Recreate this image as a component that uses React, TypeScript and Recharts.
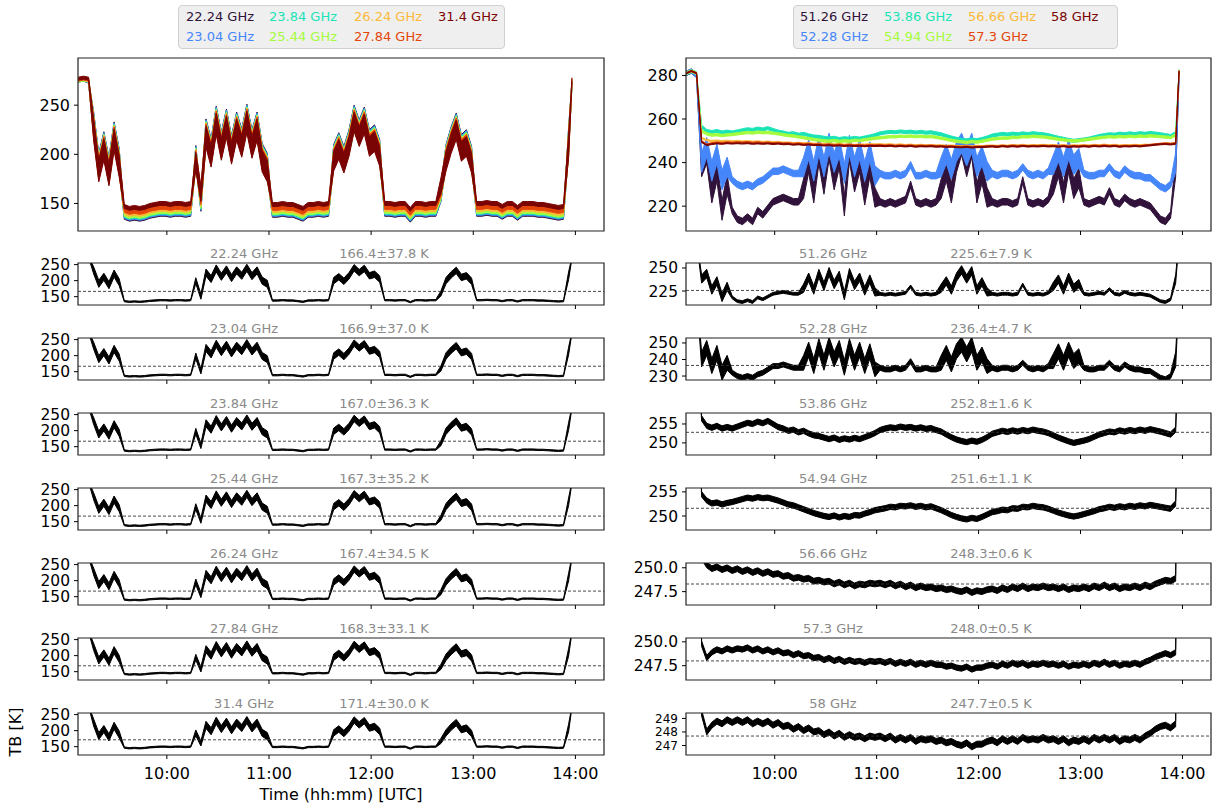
import React from 'react';
import { ComposedChart, Area, XAxis, YAxis, ReferenceLine, ReferenceArea } from 'recharts';

// sample times (UTC)
const TIMES = [
  '9:08', '9:11', '9:14', '9:17', '9:20', '9:23', '9:26', '9:29', '9:32', '9:35', '9:38', '9:41', '9:44', '9:47', '9:50', '9:53', '9:56', '9:59',
  '10:02', '10:05', '10:08', '10:11', '10:14', '10:17', '10:20', '10:23', '10:26', '10:29', '10:32', '10:35', '10:38', '10:41', '10:44', '10:47', '10:50', '10:53', '10:56', '10:59',
  '11:02', '11:05', '11:08', '11:11', '11:14', '11:17', '11:20', '11:23', '11:26', '11:29', '11:32', '11:35', '11:38', '11:41', '11:44', '11:47', '11:50', '11:53', '11:56', '11:59',
  '12:02', '12:05', '12:08', '12:11', '12:14', '12:17', '12:20', '12:23', '12:26', '12:29', '12:32', '12:35', '12:38', '12:41', '12:44', '12:47', '12:50', '12:53', '12:56', '12:59',
  '13:02', '13:05', '13:08', '13:11', '13:14', '13:17', '13:20', '13:23', '13:26', '13:29', '13:32', '13:35', '13:38', '13:41', '13:44', '13:47', '13:50', '13:53', '13:56',
  '13:58',
];

const K_FREQS = ['22.24 GHz', '23.04 GHz', '23.84 GHz', '25.44 GHz', '26.24 GHz', '27.84 GHz', '31.4 GHz'];
const K_MEANS = [166.4, 166.9, 167.0, 167.3, 167.4, 168.3, 171.4];
const K_STDS = [37.8, 37.0, 36.3, 35.2, 34.5, 33.1, 30.0];

const V_FREQS = ['51.26 GHz', '52.28 GHz', '53.86 GHz', '54.94 GHz', '56.66 GHz', '57.3 GHz', '58 GHz'];
const V_MEANS = [225.6, 236.4, 252.8, 251.6, 248.3, 248.0, 247.7];
const V_STDS = [7.9, 4.7, 1.6, 1.1, 0.6, 0.5, 0.5];

const COLORS = ['#30123b', '#4686fb', '#1ae4b6', '#a4fc3c', '#fbb938', '#e4460a', '#7a0403'];

// brightness temperatures [K], K band
const TB_2224 = [
  275, 276, 274, 232, 190, 212, 186, 222, 195,
  136, 134, 135, 134, 135, 137, 138, 139, 139, 138, 139, 139, 138, 139,
  200, 150, 225, 205, 238, 212, 235, 208, 232, 215, 240, 214, 232, 200, 190,
  138, 138, 139, 138, 138, 136, 134, 138, 138, 139, 138, 139,
  200, 212, 198, 215, 240, 225, 238, 215, 220, 205,
  139, 139, 138, 139, 139, 133, 139, 139, 138, 139, 139, 160,
  200, 218, 232, 210, 215, 198,
  139, 139, 140, 139, 139, 136, 139, 139, 135, 139, 139, 139, 138, 138, 137, 136, 135, 136,
  215, 272,
];
const TB_2304 = [
  275, 276, 274, 231, 189, 211, 185, 221, 194,
  137, 135, 136, 135, 136, 138, 139, 140, 140, 139, 140, 140, 139, 140,
  199, 151, 224, 204, 237, 211, 234, 207, 231, 214, 239, 213, 231, 199, 189,
  139, 139, 140, 139, 139, 137, 135, 139, 139, 140, 139, 140,
  199, 211, 197, 214, 239, 224, 237, 214, 219, 204,
  140, 140, 139, 140, 140, 134, 140, 140, 139, 140, 140, 160,
  199, 217, 231, 209, 214, 197,
  140, 140, 141, 140, 140, 137, 140, 140, 136, 140, 140, 140, 139, 139, 138, 137, 136, 137,
  214, 273,
];
const TB_2384 = [
  275, 276, 275, 230, 188, 210, 184, 220, 193,
  138, 136, 137, 136, 137, 139, 140, 141, 141, 140, 141, 141, 140, 141,
  198, 152, 223, 203, 236, 210, 233, 206, 230, 213, 238, 212, 230, 198, 188,
  140, 140, 141, 140, 140, 138, 136, 140, 140, 141, 140, 141,
  198, 210, 196, 213, 238, 223, 236, 213, 218, 203,
  141, 141, 140, 141, 141, 135, 141, 141, 140, 141, 141, 161,
  198, 216, 230, 208, 213, 196,
  141, 141, 142, 141, 141, 138, 141, 141, 137, 141, 141, 141, 140, 140, 139, 138, 137, 138,
  213, 273,
];
const TB_2544 = [
  275, 276, 275, 229, 187, 209, 183, 219, 192,
  139, 137, 138, 137, 138, 140, 141, 142, 142, 141, 142, 142, 141, 142,
  197, 153, 222, 202, 235, 209, 232, 205, 229, 212, 237, 211, 229, 197, 187,
  141, 141, 142, 141, 141, 139, 137, 141, 141, 142, 141, 142,
  197, 209, 195, 212, 237, 222, 235, 212, 217, 202,
  142, 142, 141, 142, 142, 136, 142, 142, 141, 142, 142, 162,
  197, 215, 229, 207, 212, 195,
  142, 142, 143, 142, 142, 139, 142, 142, 138, 142, 142, 142, 141, 141, 140, 139, 138, 139,
  212, 274,
];
const TB_2624 = [
  276, 277, 275, 228, 186, 208, 182, 218, 191,
  141, 139, 140, 139, 140, 142, 143, 144, 144, 143, 144, 144, 143, 144,
  196, 155, 221, 201, 234, 208, 231, 204, 228, 211, 236, 210, 228, 196, 186,
  143, 143, 144, 143, 143, 141, 139, 143, 143, 144, 143, 144,
  196, 208, 194, 211, 236, 221, 234, 211, 216, 201,
  144, 144, 143, 144, 144, 138, 144, 144, 143, 144, 144, 164,
  196, 214, 228, 206, 211, 194,
  144, 144, 145, 144, 144, 141, 144, 144, 140, 144, 144, 144, 143, 143, 142, 141, 140, 141,
  211, 274,
];
const TB_2784 = [
  276, 277, 276, 227, 185, 207, 181, 217, 190,
  143, 141, 142, 141, 142, 144, 145, 146, 146, 145, 146, 146, 145, 146,
  195, 157, 220, 200, 233, 207, 230, 203, 227, 210, 235, 209, 227, 195, 185,
  145, 145, 146, 145, 145, 143, 141, 145, 145, 146, 145, 146,
  195, 207, 193, 210, 235, 220, 233, 210, 215, 200,
  146, 146, 145, 146, 146, 140, 146, 146, 145, 146, 146, 165,
  195, 213, 227, 205, 210, 193,
  146, 146, 147, 146, 146, 143, 146, 146, 142, 146, 146, 146, 145, 145, 144, 143, 142, 143,
  210, 275,
];
const TB_3140 = [
  277, 278, 277, 225, 183, 205, 179, 215, 188,
  147, 145, 146, 145, 146, 148, 149, 150, 150, 149, 150, 150, 149, 150,
  193, 160, 218, 198, 231, 205, 228, 201, 225, 208, 233, 207, 225, 193, 183,
  149, 149, 150, 149, 149, 147, 145, 149, 149, 150, 149, 150,
  193, 205, 191, 208, 233, 218, 231, 208, 213, 198,
  150, 150, 149, 150, 150, 144, 150, 150, 149, 150, 150, 168,
  193, 211, 225, 203, 208, 191,
  150, 150, 151, 150, 150, 147, 150, 150, 146, 150, 150, 150, 149, 149, 148, 147, 146, 147,
  208, 276,
];
// scatter half-width of the K-band samples [K]
const K_SPREAD = [
  1.5, 1.5, 1.5, 11, 11, 11, 11, 11, 11,
  2, 2, 2, 2, 2, 2, 2, 2, 2, 2, 2, 2, 2, 2,
  9, 8, 11, 11, 11, 11, 11, 11, 11, 11, 11, 11, 11, 11, 11,
  2, 2, 2, 2, 2, 2, 2, 2, 2, 2, 2, 2,
  10, 10, 10, 10, 10, 10, 10, 10, 10, 10,
  2, 2, 2, 2, 2, 2, 2, 2, 2, 2, 2, 8,
  10, 10, 10, 10, 10, 10,
  2, 2, 2, 2, 2, 2, 2, 2, 2, 2, 2, 2, 2, 2, 2, 2, 2, 2,
  12, 2,
];

// V band
const TB_5126 = [
  281, 282, 280, 238, 244, 226, 236, 218, 230,
  218, 214, 213, 215, 213, 218, 216, 219, 222, 223, 224, 223, 222, 222,
  228, 240, 226, 244, 230, 246, 232, 242, 220, 245, 231, 240, 225, 238, 224,
  222, 221, 222, 221, 222, 223, 230, 222, 221, 222, 221, 222,
  228, 236, 226, 240, 248, 238, 247, 226, 235, 224,
  222, 221, 222, 222, 221, 222, 232, 222, 221, 222, 221, 223,
  230, 238, 226, 240, 228, 233,
  222, 221, 222, 223, 222, 227, 222, 221, 224, 222, 221, 222, 221, 220, 217, 214, 213, 216,
  238, 280,
];
const TB_5228 = [
  281, 282, 280, 240, 247, 236, 244, 232, 238,
  232, 230, 229, 230, 229, 231, 232, 234, 236, 236, 237, 236, 235, 235,
  238, 246, 236, 248, 238, 249, 240, 247, 235, 248, 238, 246, 236, 245, 234,
  235, 234, 234, 235, 234, 235, 239, 234, 234, 235, 234, 234,
  238, 244, 237, 245, 249, 243, 249, 238, 243, 236,
  235, 234, 235, 235, 234, 235, 238, 235, 234, 235, 234, 236,
  239, 245, 238, 246, 239, 242,
  235, 234, 234, 235, 235, 238, 235, 234, 237, 235, 234, 234, 233, 233, 231, 229, 228, 230,
  240, 280,
];
const TB_5386 = [
  281, 282, 281, 256.5, 254.5, 254.0, 254.5, 253.8, 254.2,
  253.8, 254.3, 254.8, 255.3, 255.0, 255.6, 255.2, 255.8, 255.0, 254.2, 253.8, 253.2, 253.5, 252.8,
  253.2, 252.5, 252.0, 251.8, 251.4, 251.0, 251.4, 250.8, 251.2, 250.9, 251.3, 251.0, 251.5, 252.0, 252.6,
  253.4, 253.8, 254.1, 253.9, 254.3, 254.0, 254.2, 253.8, 254.1, 253.7, 253.9, 253.4,
  253.0, 252.2, 251.5, 250.9, 250.5, 250.2, 250.6, 250.3, 250.8, 251.5,
  252.4, 252.8, 253.2, 252.9, 253.3, 253.0, 253.4, 253.1, 253.5, 253.2, 253.0, 252.6,
  252.0, 251.4, 250.9, 250.4, 250.0, 250.3,
  250.6, 251.0, 251.6, 252.2, 252.6, 253.0, 252.8, 253.3, 253.0, 253.4, 253.1, 253.5, 253.2, 253.6, 253.3, 253.0, 252.6, 252.2,
  253.5, 282,
];
const TB_5494 = [
  281, 282, 281, 254.5, 253.2, 252.6, 252.8, 252.4, 252.7,
  252.9, 253.2, 253.5, 253.8, 253.6, 253.9, 253.7, 253.8, 253.5, 253.2, 252.8, 252.4, 252.2, 251.8,
  251.4, 251.0, 250.6, 250.3, 250.0, 249.8, 250.1, 249.7, 250.0, 249.8, 250.2, 250.1, 250.5, 250.8, 251.2,
  251.4, 251.6, 251.9, 251.8, 252.1, 252.0, 252.2, 251.9, 252.1, 251.8, 252.0, 251.6,
  251.2, 250.7, 250.2, 249.8, 249.5, 249.3, 249.6, 249.4, 249.8, 250.3,
  250.8, 251.0, 251.3, 251.2, 251.6, 251.5, 251.9, 251.8, 252.1, 251.9, 251.8, 251.5,
  251.1, 250.7, 250.4, 250.1, 249.9, 250.1,
  250.4, 250.7, 251.0, 251.4, 251.6, 251.9, 251.7, 252.0, 251.8, 252.1, 251.9, 252.2, 252.0, 252.3, 252.1, 251.9, 251.7, 251.5,
  252.6, 282,
];
const TB_5666 = [
  281, 282, 281, 251.2, 250.3, 249.9, 250.1, 249.8, 250.0,
  249.7, 249.9, 249.6, 249.8, 249.5, 249.7, 249.4, 249.6, 249.3, 249.4, 249.1, 249.2, 248.9, 249.0,
  248.8, 248.9, 248.6, 248.7, 248.5, 248.6, 248.3, 248.5, 248.2, 248.4, 248.1, 248.3, 248.2, 248.4, 248.3,
  248.4, 248.2, 248.4, 248.1, 248.3, 248.0, 248.2, 247.9, 248.1, 247.9, 248.0, 247.8,
  247.9, 247.7, 247.8, 247.6, 247.5, 247.7, 247.4, 247.6, 247.5, 247.7,
  247.8, 247.6, 247.9, 247.7, 248.0, 247.8, 248.1, 247.8, 248.0, 247.9, 248.1, 247.9,
  248.0, 247.8, 248.0, 247.7, 247.9, 247.8,
  248.0, 247.8, 248.1, 247.9, 248.2, 247.9, 248.1, 247.8, 248.0, 247.9, 248.1, 247.9, 248.2, 248.0, 248.3, 248.5, 248.7, 248.6,
  248.9, 282,
];
const TB_5730 = [
  281, 282, 281, 249.8, 248.3, 248.9, 249.2, 249.0, 249.3,
  249.1, 249.3, 249.2, 249.4, 249.1, 249.3, 249.0, 249.2, 248.9, 249.1, 248.8, 248.9, 248.6, 248.8,
  248.5, 248.6, 248.3, 248.4, 248.1, 248.3, 248.0, 248.2, 247.9, 248.1, 247.9, 248.0, 247.8, 248.0, 247.9,
  248.0, 247.8, 248.0, 247.7, 247.9, 247.7, 247.9, 247.6, 247.8, 247.6, 247.8, 247.6,
  247.6, 247.4, 247.5, 247.3, 247.2, 247.4, 247.1, 247.3, 247.3, 247.5,
  247.6, 247.4, 247.7, 247.5, 247.8, 247.6, 247.8, 247.5, 247.7, 247.6, 247.8, 247.6,
  247.7, 247.5, 247.7, 247.4, 247.6, 247.5,
  247.7, 247.5, 247.8, 247.6, 247.9, 247.6, 247.8, 247.5, 247.7, 247.6, 247.8, 247.6, 247.9, 248.1, 248.4, 248.6, 248.8, 248.6,
  248.9, 282,
];
const TB_5800 = [
  281, 282, 281, 249.4, 248.0, 248.5, 248.8, 248.6, 248.9,
  248.7, 248.9, 248.7, 248.9, 248.6, 248.8, 248.6, 248.8, 248.5, 248.7, 248.4, 248.5, 248.2, 248.4,
  248.1, 248.3, 248.0, 248.1, 247.8, 248.0, 247.7, 247.9, 247.6, 247.8, 247.6, 247.7, 247.5, 247.7, 247.6,
  247.7, 247.5, 247.7, 247.4, 247.6, 247.4, 247.6, 247.3, 247.5, 247.4, 247.5, 247.3,
  247.4, 247.2, 247.3, 247.1, 247.0, 247.2, 246.9, 247.1, 247.1, 247.3,
  247.4, 247.2, 247.5, 247.3, 247.5, 247.3, 247.6, 247.4, 247.5, 247.4, 247.6, 247.4,
  247.5, 247.3, 247.5, 247.2, 247.4, 247.3,
  247.5, 247.3, 247.6, 247.4, 247.6, 247.4, 247.6, 247.3, 247.5, 247.4, 247.6, 247.4, 247.7, 247.9, 248.2, 248.4, 248.5, 248.3,
  248.6, 282,
];
// scatter half-width for 51.26 / 52.28 GHz [K]
const V_SPREAD_LOW = [
  1, 1, 1, 4.5, 4.5, 4.5, 4.5, 4.5, 4.5,
  1.5, 1.5, 1.5, 1.5, 1.5, 1.5, 1.5, 1.5, 1.5, 1.5, 1.5, 1.5, 1.5, 1.5,
  4.5, 4.5, 4.5, 4.5, 4.5, 4.5, 4.5, 4.5, 4.5, 4.5, 4.5, 4.5, 4.5, 4.5, 4.5,
  1.5, 1.5, 1.5, 1.5, 1.5, 1.5, 1.5, 1.5, 1.5, 1.5, 1.5, 1.5,
  4.5, 4.5, 4.5, 4.5, 4.5, 4.5, 4.5, 4.5, 4.5, 4.5,
  1.5, 1.5, 1.5, 1.5, 1.5, 1.5, 1.5, 1.5, 1.5, 1.5, 1.5, 1.5,
  4.5, 4.5, 4.5, 4.5, 4.5, 4.5,
  1.5, 1.5, 1.5, 1.5, 1.5, 1.5, 1.5, 1.5, 1.5, 1.5, 1.5, 1.5, 1.5, 1.5, 1.5, 1.5, 1.5, 1.5,
  4.5, 1,
];
// scatter half-width for the opaque channels 53.86 ... 58 GHz [K]
const V_SPREAD_HIGH = [0.7, 0.55, 0.3, 0.28, 0.22];

const K_SERIES = [TB_2224, TB_2304, TB_2384, TB_2544, TB_2624, TB_2784, TB_3140];
const V_SERIES = [TB_5126, TB_5228, TB_5386, TB_5494, TB_5666, TB_5730, TB_5800];

// axis settings
const X_DOMAIN: [number, number] = [9.13, 14.28];
const X_TICKS = [10, 11, 12, 13, 14];
const K_TOP_DOMAIN: [number, number] = [122, 298];
const K_TOP_TICKS = [150, 200, 250];
const V_TOP_DOMAIN: [number, number] = [208.6, 288];
const V_TOP_TICKS = [220, 240, 260, 280];
const K_SMALL_DOMAIN: [number, number] = [124, 255];
const K_SMALL_TICKS = [150, 200, 250];
const V_SMALL_DOMAINS: [number, number][] = [
  [209.8, 255.4], [227.6, 253], [246.8, 257.9], [247.1, 255.8], [246.1, 250.5], [246.0, 250.4], [246.3, 249.4],
];
const V_SMALL_TICKS = [[225, 250], [230, 240, 250], [250, 255], [250, 255], [247.5, 250], [247.5, 250], [247, 248, 249]];

const toHours = (s: string) => {
  const [h, m] = s.split(':').map(Number);
  return h + m / 60;
};

const kRows = TIMES.map((t, i) => {
  const r: Record<string, any> = { t: toHours(t) };
  K_SERIES.forEach((s, j) => (r['c' + j] = [s[i] - K_SPREAD[i], s[i] + K_SPREAD[i]]));
  return r;
});
const vRows = TIMES.map((t, i) => {
  const r: Record<string, any> = { t: toHours(t) };
  V_SERIES.forEach((s, j) => {
    const sp = j < 2 ? V_SPREAD_LOW[i] : V_SPREAD_HIGH[j - 2];
    r['c' + j] = [s[i] - sp, s[i] + sp];
  });
  return r;
});

const FONT = 'DejaVu Sans, sans-serif';
const YW = 80;

type PanelProps = {
  x: number;
  y: number;
  w: number;
  h: number;
  rows: Record<string, any>[];
  keys: string[];
  colors: string[];
  domain: [number, number];
  ticks: number[];
  decimals?: number;
  xLabels?: boolean;
  mean?: number;
  sw?: number;
  yFont?: number;
};

const Panel = ({ x, y, w, h, rows, keys, colors, domain, ticks, decimals = 0, xLabels, mean, sw = 1, yFont = 16 }: PanelProps) => {
  const MT = 12;
  const MR = 4;
  const XH = xLabels ? 38 : 8;
  return (
    <div style={{ position: 'absolute', left: x - YW, top: y - MT }}>
      <ComposedChart width={YW + w + MR} height={MT + h + XH} data={rows} margin={{ top: MT, right: MR, left: 0, bottom: 0 }}>
        <XAxis
          dataKey="t"
          type="number"
          domain={X_DOMAIN}
          ticks={X_TICKS}
          interval={0}
          allowDataOverflow
          axisLine={false}
          height={XH}
          tickSize={4}
          tickMargin={9}
          tickLine={{ stroke: '#000' }}
          tick={{ fill: '#000', fontSize: 16, fontFamily: FONT }}
          tickFormatter={(v: number) => (xLabels ? `${Math.round(v)}:00` : '')}
        />
        <YAxis
          type="number"
          domain={domain}
          ticks={ticks}
          interval={0}
          allowDataOverflow
          axisLine={false}
          width={YW}
          tickSize={4}
          tickMargin={4}
          tickLine={{ stroke: '#000' }}
          tick={{ fill: '#000', fontSize: yFont, fontFamily: FONT }}
          tickFormatter={(v: number) => v.toFixed(decimals)}
        />
        {keys.map((k, i) => (
          <Area
            key={k}
            type="linear"
            dataKey={k}
            stroke={colors[i]}
            strokeWidth={sw}
            fill={colors[i]}
            fillOpacity={1}
            dot={false}
            activeDot={false}
            isAnimationActive={false}
          />
        ))}
        {mean !== undefined && (
          <ReferenceLine y={mean} stroke="#333" strokeWidth={0.9} strokeDasharray="3 2" />
        )}
        <ReferenceArea
          x1={X_DOMAIN[0]}
          x2={X_DOMAIN[1]}
          y1={domain[0]}
          y2={domain[1]}
          fill="none"
          stroke="#222"
          strokeWidth={1.2}
          ifOverflow="visible"
        />
      </ComposedChart>
    </div>
  );
};

const Legend = ({ x, labels, cols }: { x: number; labels: string[]; cols: number[] }) => (
  <div
    style={{
      position: 'absolute',
      left: x,
      top: 5,
      width: cols[3] + 68 - x,
      height: 44,
      background: '#efefef',
      border: '1px solid #d0d0d0',
      borderRadius: 4,
      boxSizing: 'border-box',
    }}
  >
    {labels.map((l, i) => (
      <span
        key={l}
        style={{
          position: 'absolute',
          left: cols[Math.floor(i / 2)] - x,
          top: i % 2 === 0 ? 2 : 22,
          fontSize: 13,
          lineHeight: '18px',
          color: COLORS[i],
          whiteSpace: 'nowrap',
        }}
      >
        {l}
      </span>
    ))}
  </div>
);

const Title = ({ cx, y, text }: { cx: number; y: number; text: string }) => (
  <div
    style={{
      position: 'absolute',
      left: cx - 100,
      width: 200,
      top: y - 17,
      textAlign: 'center',
      fontSize: 13,
      lineHeight: '16px',
      color: '#8a8a8a',
    }}
  >
    {text}
  </div>
);

const LEFT_X = 78;
const LEFT_W = 526;
const RIGHT_X = 686;
const RIGHT_W = 525;
const TOP_Y = 58;
const TOP_H = 173;
const SMALL_Y0 = 263;
const SMALL_STEP = 75;
const SMALL_H = 42;
const KEYS = ['c0', 'c1', 'c2', 'c3', 'c4', 'c5', 'c6'];

export default function App() {
  return (
    <div
      style={{
        position: 'absolute',
        left: 0,
        top: 0,
        width: 1220,
        height: 807,
        background: '#fff',
        fontFamily: FONT,
        overflow: 'hidden',
      }}
    >
      <Legend x={178} labels={K_FREQS} cols={[185, 268, 353, 437]} />
      <Legend x={793} labels={V_FREQS} cols={[799, 883, 967, 1050]} />

      <Panel x={LEFT_X} y={TOP_Y} w={LEFT_W} h={TOP_H} rows={kRows} keys={KEYS} colors={COLORS}
        domain={K_TOP_DOMAIN} ticks={K_TOP_TICKS} />
      <Panel x={RIGHT_X} y={TOP_Y} w={RIGHT_W} h={TOP_H} rows={vRows} keys={KEYS} colors={COLORS}
        domain={V_TOP_DOMAIN} ticks={V_TOP_TICKS} />

      {K_FREQS.map((f, i) => {
        const y = SMALL_Y0 + i * SMALL_STEP;
        return (
          <React.Fragment key={f}>
            <Title cx={244} y={y} text={f} />
            <Title cx={384} y={y} text={`${K_MEANS[i].toFixed(1)}±${K_STDS[i].toFixed(1)} K`} />
            <Panel x={LEFT_X} y={y} w={LEFT_W} h={SMALL_H} rows={kRows} keys={['c' + i]} colors={['#000']}
              domain={K_SMALL_DOMAIN} ticks={K_SMALL_TICKS} mean={K_MEANS[i]} xLabels={i === 6} yFont={15.5} />
          </React.Fragment>
        );
      })}

      {V_FREQS.map((f, i) => {
        const y = SMALL_Y0 + i * SMALL_STEP;
        return (
          <React.Fragment key={f}>
            <Title cx={833} y={y} text={f} />
            <Title cx={991} y={y} text={`${V_MEANS[i].toFixed(1)}±${V_STDS[i].toFixed(1)} K`} />
            <Panel x={RIGHT_X} y={y} w={RIGHT_W} h={SMALL_H} rows={vRows} keys={['c' + i]} colors={['#000']}
              domain={V_SMALL_DOMAINS[i]} ticks={V_SMALL_TICKS[i]} decimals={i === 4 || i === 5 ? 1 : 0}
              mean={V_MEANS[i]} xLabels={i === 6} yFont={i === 6 ? 12 : 15.5} />
          </React.Fragment>
        );
      })}

      <div style={{ position: 'absolute', left: LEFT_X, width: LEFT_W, top: 785, textAlign: 'center', fontSize: 16, lineHeight: '20px' }}>
        Time (hh:mm) [UTC]
      </div>
      <div
        style={{
          position: 'absolute',
          left: 16,
          top: 732,
          fontSize: 16,
          lineHeight: '20px',
          whiteSpace: 'nowrap',
          transform: 'translate(-50%, -50%) rotate(-90deg)',
        }}
      >
        TB [K]
      </div>
    </div>
  );
}
